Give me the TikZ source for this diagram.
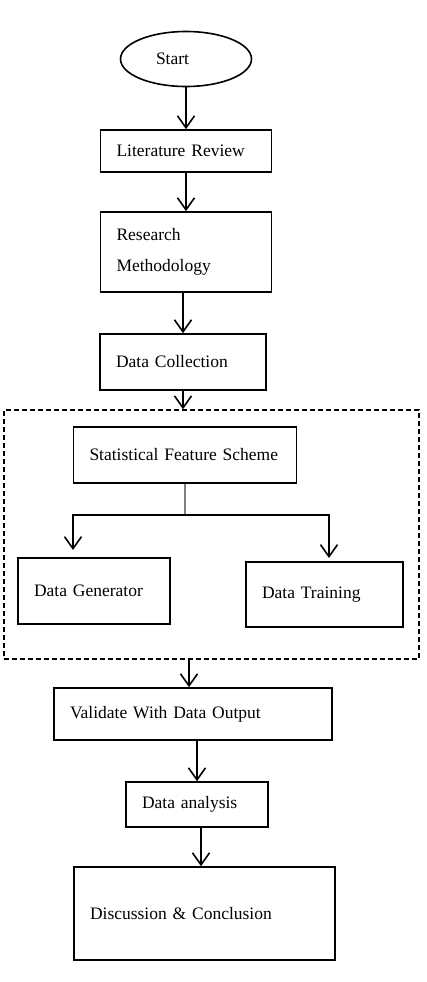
\documentclass[tikz,border=0pt]{standalone}
\usepackage{fontspec}
\setmainfont{Liberation Serif}
\usetikzlibrary{arrows.meta,shapes.geometric}
\tikzset{
 rm box/.style={draw,line width=1.6pt,inner xsep=16pt,inner ysep=0pt,align=left,
                font=\fontsize{17.5}{31}\selectfont},
 rm start/.style={draw,ellipse,line width=1.6pt,inner sep=0pt,align=left,
                  font=\fontsize{17.5}{31}\selectfont},
 rm flow/.style={line width=1.6pt,-{Straight Barb[length=12pt,width=17pt,line width=1.6pt]}},
 rm split/.style={line width=1.5pt,gray},
 rm group/.style={draw,line width=1.5pt,dash pattern=on 5pt off 3pt,inner sep=0pt}
}
\begin{document}
\begin{tikzpicture}[x=1pt,y=-1pt]
 \useasboundingbox (0,0) rectangle (427,982);
 % one column of steps; the dashed frame holds the feature scheme and its two branches
 \node[rm group,minimum width=415pt,minimum height=249pt] (grp) at (211.5,534.5) {};

 \node[rm start,minimum width=131pt,minimum height=55pt,text width=60pt] (start) at (186,59) {Start};
 \node[rm box,text width=139pt,minimum height=42pt] (lit) at (186,151) {Literature Review};
 \node[rm box,text width=139pt,minimum height=80pt] (res) at (186,252) {Research\\Methodology};
 \node[rm box,text width=134pt,minimum height=56pt] (dc) at (183,362) {Data Collection};
 \node[rm box,text width=191pt,minimum height=56pt] (sfs) at (185,455) {Statistical Feature Scheme};
 \node[rm box,text width=120pt,minimum height=66pt] (gen) at (94,591) {Data Generator};
 \node[rm box,text width=125pt,minimum height=65pt] (trn) at (324.5,594.5) {Data Training};
 \node[rm box,text width=246pt,minimum height=52pt] (val) at (193,714) {Validate With Data Output};
 \node[rm box,text width=110pt,minimum height=45pt] (da) at (197,804.5) {Data analysis};
 \node[rm box,text width=229pt,minimum height=93pt] (disc) at (204.5,913.5) {Discussion \& Conclusion};

 \coordinate (fork) at (185,515);
 \coordinate (genin) at (73,550);
 \coordinate (trnin) at (329,558);

 \draw[rm flow] (start.south) -- (start.south |- lit.north);
 \draw[rm flow] (lit.south) -- (res.north);
 \draw[rm flow] (res.south -| dc) -- (dc.north);
 \draw[rm flow] (dc.south) -- (dc.south |- grp.north);
 \draw[rm split] (sfs.south) -- (fork);
 \draw[rm flow] (fork) -| (genin);
 \draw[rm flow] (fork) -| (trnin);
 \draw[rm flow] ([xshift=-4pt]val.north |- grp.south) -- ([xshift=-4pt]val.north);
 \draw[rm flow] (val.south -| da) -- (da.north);
 \draw[rm flow] ([xshift=4pt]da.south) -- ([xshift=4pt]da.south |- disc.north);
\end{tikzpicture}
\end{document}
